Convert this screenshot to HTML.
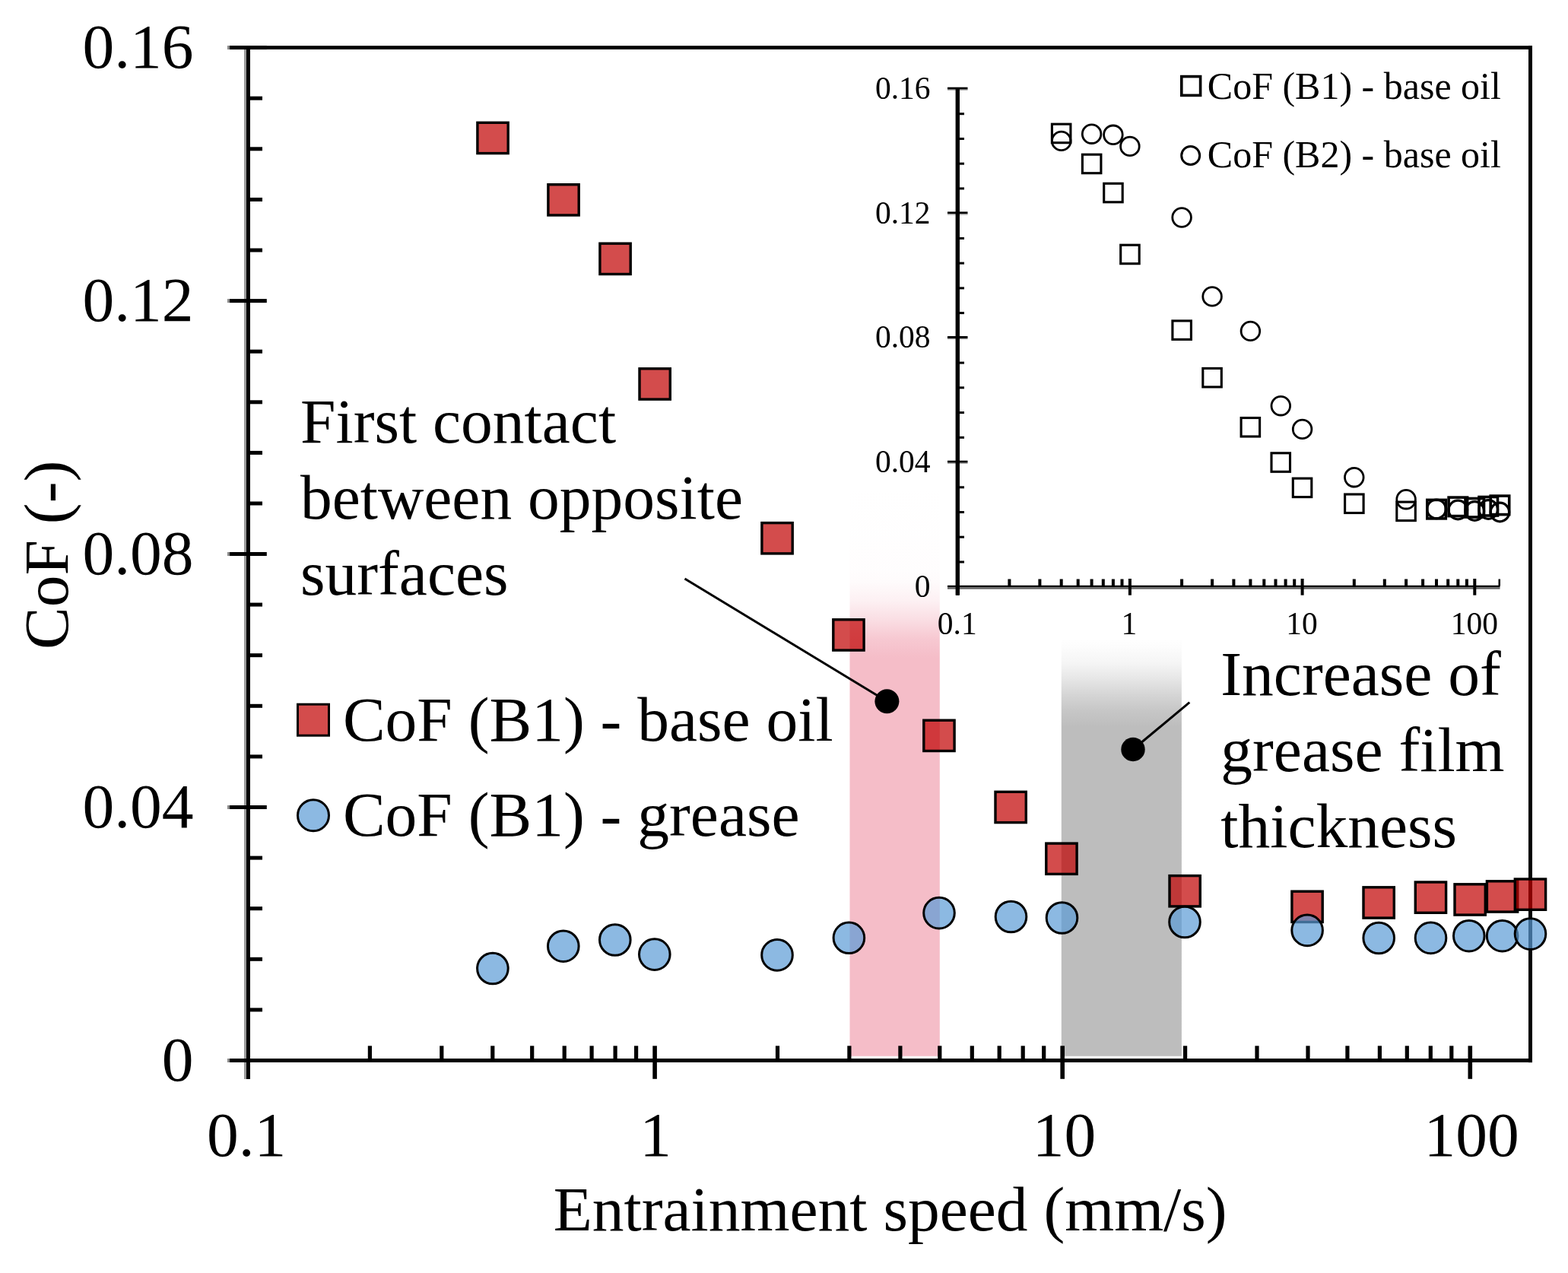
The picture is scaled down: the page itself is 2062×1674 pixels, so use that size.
<!DOCTYPE html><html><head><meta charset="utf-8"><style>html,body{margin:0;padding:0;background:#fff;overflow:hidden}svg{display:block}</style></head><body><svg width="2062" height="1674" viewBox="0 0 2062 1674">
<defs>
<linearGradient id="gp" x1="0" y1="636" x2="0" y2="1389" gradientUnits="userSpaceOnUse"><stop offset="0.0000" stop-color="#F5BDC8" stop-opacity="0"/><stop offset="0.0850" stop-color="#F5BDC8" stop-opacity="0.012"/><stop offset="0.1514" stop-color="#F5BDC8" stop-opacity="0.03"/><stop offset="0.1713" stop-color="#F5BDC8" stop-opacity="0.06"/><stop offset="0.2045" stop-color="#F5BDC8" stop-opacity="0.22"/><stop offset="0.2377" stop-color="#F5BDC8" stop-opacity="0.5"/><stop offset="0.2709" stop-color="#F5BDC8" stop-opacity="0.83"/><stop offset="0.3041" stop-color="#F5BDC8" stop-opacity="1"/><stop offset="1.0000" stop-color="#F5BDC8" stop-opacity="1"/></linearGradient>
<linearGradient id="gg" x1="0" y1="838" x2="0" y2="1389" gradientUnits="userSpaceOnUse"><stop offset="0.0000" stop-color="#BDBDBD" stop-opacity="0"/><stop offset="0.0236" stop-color="#BDBDBD" stop-opacity="0.045"/><stop offset="0.0617" stop-color="#BDBDBD" stop-opacity="0.15"/><stop offset="0.0998" stop-color="#BDBDBD" stop-opacity="0.38"/><stop offset="0.1379" stop-color="#BDBDBD" stop-opacity="0.64"/><stop offset="0.1760" stop-color="#BDBDBD" stop-opacity="0.86"/><stop offset="0.2142" stop-color="#BDBDBD" stop-opacity="1"/><stop offset="1.0000" stop-color="#BDBDBD" stop-opacity="1"/></linearGradient>
</defs>
<rect x="0" y="0" width="2062" height="1674" fill="#fff"/>
<rect x="1117.5" y="636" width="118.3" height="752.8" fill="url(#gp)"/>
<rect x="1395.8" y="841" width="158.1" height="547.8" fill="url(#gg)"/>
<g>
<rect x="1246" y="769.8" width="726.5" height="2.5" fill="#000"/>
<rect x="1246" y="772.3" width="726.5" height="2.4" fill="#606060"/>
<rect x="1246" y="114.7" width="26.5" height="3" fill="#000"/>
<rect x="1246" y="117.7" width="26.5" height="1.3" fill="#b0b0b0"/>
<rect x="1246" y="278.4" width="26.5" height="3" fill="#000"/>
<rect x="1246" y="281.4" width="26.5" height="1.3" fill="#b0b0b0"/>
<rect x="1246" y="442.0" width="26.5" height="3" fill="#000"/>
<rect x="1246" y="445.0" width="26.5" height="1.3" fill="#b0b0b0"/>
<rect x="1246" y="605.7" width="26.5" height="3" fill="#000"/>
<rect x="1246" y="608.7" width="26.5" height="1.3" fill="#b0b0b0"/>
<rect x="1259" y="737.5" width="9" height="3" fill="#000"/>
<rect x="1259" y="704.7" width="9" height="3" fill="#000"/>
<rect x="1259" y="672.0" width="9" height="3" fill="#000"/>
<rect x="1259" y="639.3" width="9" height="3" fill="#000"/>
<rect x="1259" y="573.8" width="9" height="3" fill="#000"/>
<rect x="1259" y="541.1" width="9" height="3" fill="#000"/>
<rect x="1259" y="508.3" width="9" height="3" fill="#000"/>
<rect x="1259" y="475.6" width="9" height="3" fill="#000"/>
<rect x="1259" y="410.1" width="9" height="3" fill="#000"/>
<rect x="1259" y="377.4" width="9" height="3" fill="#000"/>
<rect x="1259" y="344.6" width="9" height="3" fill="#000"/>
<rect x="1259" y="311.9" width="9" height="3" fill="#000"/>
<rect x="1259" y="246.4" width="9" height="3" fill="#000"/>
<rect x="1259" y="213.7" width="9" height="3" fill="#000"/>
<rect x="1259" y="181.0" width="9" height="3" fill="#000"/>
<rect x="1259" y="148.2" width="9" height="3" fill="#000"/>
<rect x="1257.2" y="761" width="4" height="21.7" fill="#000"/>
<rect x="1325.4" y="761.5" width="4" height="9" fill="#000"/>
<rect x="1365.4" y="761.5" width="4" height="9" fill="#000"/>
<rect x="1393.7" y="761.5" width="4" height="9" fill="#000"/>
<rect x="1415.7" y="761.5" width="4" height="9" fill="#000"/>
<rect x="1433.6" y="761.5" width="4" height="9" fill="#000"/>
<rect x="1448.8" y="761.5" width="4" height="9" fill="#000"/>
<rect x="1461.9" y="761.5" width="4" height="9" fill="#000"/>
<rect x="1473.5" y="761.5" width="4" height="9" fill="#000"/>
<rect x="1483.9" y="761" width="4" height="21.7" fill="#000"/>
<rect x="1552.1" y="761.5" width="4" height="9" fill="#000"/>
<rect x="1592.1" y="761.5" width="4" height="9" fill="#000"/>
<rect x="1620.4" y="761.5" width="4" height="9" fill="#000"/>
<rect x="1642.4" y="761.5" width="4" height="9" fill="#000"/>
<rect x="1660.3" y="761.5" width="4" height="9" fill="#000"/>
<rect x="1675.5" y="761.5" width="4" height="9" fill="#000"/>
<rect x="1688.6" y="761.5" width="4" height="9" fill="#000"/>
<rect x="1700.2" y="761.5" width="4" height="9" fill="#000"/>
<rect x="1710.6" y="761" width="4" height="21.7" fill="#000"/>
<rect x="1778.8" y="761.5" width="4" height="9" fill="#000"/>
<rect x="1818.8" y="761.5" width="4" height="9" fill="#000"/>
<rect x="1847.1" y="761.5" width="4" height="9" fill="#000"/>
<rect x="1869.1" y="761.5" width="4" height="9" fill="#000"/>
<rect x="1887.0" y="761.5" width="4" height="9" fill="#000"/>
<rect x="1902.2" y="761.5" width="4" height="9" fill="#000"/>
<rect x="1915.3" y="761.5" width="4" height="9" fill="#000"/>
<rect x="1926.9" y="761.5" width="4" height="9" fill="#000"/>
<rect x="1937.3" y="761" width="4" height="21.7" fill="#000"/>
<rect x="1970.5" y="761.5" width="2.5" height="9" fill="#000"/>
<rect x="1256.6" y="115" width="5.4" height="667.7" fill="#000"/>
<text x="1223.5" y="129.9" font-family="Liberation Serif, Times New Roman, serif" font-size="41.5" text-anchor="end">0.16</text>
<text x="1223.5" y="293.6" font-family="Liberation Serif, Times New Roman, serif" font-size="41.5" text-anchor="end">0.12</text>
<text x="1223.5" y="457.2" font-family="Liberation Serif, Times New Roman, serif" font-size="41.5" text-anchor="end">0.08</text>
<text x="1223.5" y="620.9" font-family="Liberation Serif, Times New Roman, serif" font-size="41.5" text-anchor="end">0.04</text>
<text x="1223.5" y="784.6" font-family="Liberation Serif, Times New Roman, serif" font-size="41.5" text-anchor="end">0</text>
<text x="1258.7" y="834.4" font-family="Liberation Serif, Times New Roman, serif" font-size="41.5" text-anchor="middle">0.1</text>
<text x="1484.8" y="834.4" font-family="Liberation Serif, Times New Roman, serif" font-size="41.5" text-anchor="middle">1</text>
<text x="1712.1" y="834.4" font-family="Liberation Serif, Times New Roman, serif" font-size="41.5" text-anchor="middle">10</text>
<text x="1938.8" y="834.4" font-family="Liberation Serif, Times New Roman, serif" font-size="41.5" text-anchor="middle">100</text>
<rect x="1383.4" y="163.2" width="24.5" height="24.5" fill="none" stroke="#000" stroke-width="3.1"/>
<rect x="1423.4" y="203.2" width="24.5" height="24.5" fill="none" stroke="#000" stroke-width="3.1"/>
<rect x="1451.7" y="241.3" width="24.5" height="24.5" fill="none" stroke="#000" stroke-width="3.1"/>
<rect x="1473.7" y="322.2" width="24.5" height="24.5" fill="none" stroke="#000" stroke-width="3.1"/>
<rect x="1541.9" y="421.9" width="24.5" height="24.5" fill="none" stroke="#000" stroke-width="3.1"/>
<rect x="1581.8" y="484.4" width="24.5" height="24.5" fill="none" stroke="#000" stroke-width="3.1"/>
<rect x="1632.1" y="549.5" width="24.5" height="24.5" fill="none" stroke="#000" stroke-width="3.1"/>
<rect x="1672.0" y="595.8" width="24.5" height="24.5" fill="none" stroke="#000" stroke-width="3.1"/>
<rect x="1700.3" y="629.1" width="24.5" height="24.5" fill="none" stroke="#000" stroke-width="3.1"/>
<rect x="1768.6" y="650.0" width="24.5" height="24.5" fill="none" stroke="#000" stroke-width="3.1"/>
<rect x="1836.8" y="660.1" width="24.5" height="24.5" fill="none" stroke="#000" stroke-width="3.1"/>
<rect x="1876.8" y="657.4" width="24.5" height="24.5" fill="none" stroke="#000" stroke-width="3.6"/>
<rect x="1905.1" y="654.1" width="24.5" height="24.5" fill="none" stroke="#000" stroke-width="3.6"/>
<rect x="1927.0" y="655.5" width="24.5" height="24.5" fill="none" stroke="#000" stroke-width="3.6"/>
<rect x="1945.0" y="653.5" width="24.5" height="24.5" fill="none" stroke="#000" stroke-width="3.6"/>
<rect x="1960.2" y="652.1" width="24.5" height="24.5" fill="none" stroke="#000" stroke-width="3.6"/>
<circle cx="1395.7" cy="185.4" r="12.3" fill="none" stroke="#000" stroke-width="2.8"/>
<circle cx="1435.6" cy="176.2" r="12.3" fill="none" stroke="#000" stroke-width="2.8"/>
<circle cx="1463.9" cy="177.3" r="12.3" fill="none" stroke="#000" stroke-width="2.8"/>
<circle cx="1485.9" cy="192.4" r="12.3" fill="none" stroke="#000" stroke-width="2.8"/>
<circle cx="1554.1" cy="286" r="12.3" fill="none" stroke="#000" stroke-width="2.8"/>
<circle cx="1594.1" cy="389.9" r="12.3" fill="none" stroke="#000" stroke-width="2.8"/>
<circle cx="1644.4" cy="435.4" r="12.3" fill="none" stroke="#000" stroke-width="2.8"/>
<circle cx="1684.3" cy="533.7" r="12.3" fill="none" stroke="#000" stroke-width="2.8"/>
<circle cx="1712.6" cy="564.4" r="12.3" fill="none" stroke="#000" stroke-width="2.8"/>
<circle cx="1780.8" cy="627.7" r="12.3" fill="none" stroke="#000" stroke-width="2.8"/>
<circle cx="1849.1" cy="656.7" r="12.3" fill="none" stroke="#000" stroke-width="2.8"/>
<circle cx="1889.0" cy="669.4" r="12.3" fill="none" stroke="#000" stroke-width="3.2"/>
<circle cx="1917.3" cy="670.5" r="12.3" fill="none" stroke="#000" stroke-width="3.2"/>
<circle cx="1939.3" cy="672" r="12.3" fill="none" stroke="#000" stroke-width="3.2"/>
<circle cx="1957.3" cy="670" r="12.3" fill="none" stroke="#000" stroke-width="3.2"/>
<circle cx="1972.4" cy="673.5" r="12.3" fill="none" stroke="#000" stroke-width="3.2"/>
<rect x="1553.8" y="100.6" width="24.8" height="24.8" fill="none" stroke="#000" stroke-width="3.6"/>
<circle cx="1565.7" cy="204.5" r="12" fill="none" stroke="#000" stroke-width="3"/>
<text x="1587.8" y="130.4" font-family="Liberation Serif, Times New Roman, serif" font-size="50">CoF (B1) - base oil</text>
<text x="1587.8" y="220.3" font-family="Liberation Serif, Times New Roman, serif" font-size="50">CoF (B2) - base oil</text>
</g>
<rect x="321" y="65" width="3" height="1354" fill="#999"/>
<rect x="299" y="60.2" width="3" height="4.8" fill="#8a8a8a"/>
<rect x="302" y="60.2" width="1713" height="4.8" fill="#000"/>
<rect x="324" y="60.2" width="5" height="1358.8" fill="#000"/>
<rect x="2010" y="60.2" width="5" height="1337" fill="#000"/>
<rect x="299" y="1392" width="3" height="5" fill="#8a8a8a"/>
<rect x="302" y="1392" width="1713" height="5" fill="#000"/>
<rect x="299" y="1392.0" width="3" height="5" fill="#8a8a8a"/>
<rect x="302" y="1392.0" width="48.8" height="5" fill="#000"/>
<rect x="326" y="1325.4" width="19" height="5" fill="#000"/>
<rect x="326" y="1258.8" width="19" height="5" fill="#000"/>
<rect x="326" y="1192.2" width="19" height="5" fill="#000"/>
<rect x="326" y="1125.6" width="19" height="5" fill="#000"/>
<rect x="299" y="1059.0" width="3" height="5" fill="#8a8a8a"/>
<rect x="302" y="1059.0" width="48.8" height="5" fill="#000"/>
<rect x="326" y="992.4" width="19" height="5" fill="#000"/>
<rect x="326" y="925.8" width="19" height="5" fill="#000"/>
<rect x="326" y="859.2" width="19" height="5" fill="#000"/>
<rect x="326" y="792.6" width="19" height="5" fill="#000"/>
<rect x="299" y="726.0" width="3" height="5" fill="#8a8a8a"/>
<rect x="302" y="726.0" width="48.8" height="5" fill="#000"/>
<rect x="326" y="659.5" width="19" height="5" fill="#000"/>
<rect x="326" y="592.9" width="19" height="5" fill="#000"/>
<rect x="326" y="526.3" width="19" height="5" fill="#000"/>
<rect x="326" y="459.7" width="19" height="5" fill="#000"/>
<rect x="299" y="393.1" width="3" height="5" fill="#8a8a8a"/>
<rect x="302" y="393.1" width="48.8" height="5" fill="#000"/>
<rect x="326" y="326.5" width="19" height="5" fill="#000"/>
<rect x="326" y="259.9" width="19" height="5" fill="#000"/>
<rect x="326" y="193.3" width="19" height="5" fill="#000"/>
<rect x="326" y="126.7" width="19" height="5" fill="#000"/>
<rect x="299" y="60.1" width="3" height="5" fill="#8a8a8a"/>
<rect x="302" y="60.1" width="48.8" height="5" fill="#000"/>
<rect x="483.8" y="1375.3" width="5.2" height="18" fill="#000"/>
<rect x="578.2" y="1375.3" width="5.2" height="18" fill="#000"/>
<rect x="645.2" y="1375.3" width="5.2" height="18" fill="#000"/>
<rect x="697.1" y="1375.3" width="5.2" height="18" fill="#000"/>
<rect x="739.6" y="1375.3" width="5.2" height="18" fill="#000"/>
<rect x="775.5" y="1375.3" width="5.2" height="18" fill="#000"/>
<rect x="806.5" y="1375.3" width="5.2" height="18" fill="#000"/>
<rect x="834.0" y="1375.3" width="5.2" height="18" fill="#000"/>
<rect x="858.3" y="1375.3" width="5.6" height="43.5" fill="#000"/>
<rect x="1019.9" y="1375.3" width="5.2" height="18" fill="#000"/>
<rect x="1114.3" y="1375.3" width="5.2" height="18" fill="#000"/>
<rect x="1181.3" y="1375.3" width="5.2" height="18" fill="#000"/>
<rect x="1233.2" y="1375.3" width="5.2" height="18" fill="#000"/>
<rect x="1275.7" y="1375.3" width="5.2" height="18" fill="#000"/>
<rect x="1311.6" y="1375.3" width="5.2" height="18" fill="#000"/>
<rect x="1342.6" y="1375.3" width="5.2" height="18" fill="#000"/>
<rect x="1370.1" y="1375.3" width="5.2" height="18" fill="#000"/>
<rect x="1394.4" y="1375.3" width="5.6" height="43.5" fill="#000"/>
<rect x="1556.0" y="1375.3" width="5.2" height="18" fill="#000"/>
<rect x="1650.4" y="1375.3" width="5.2" height="18" fill="#000"/>
<rect x="1717.4" y="1375.3" width="5.2" height="18" fill="#000"/>
<rect x="1769.3" y="1375.3" width="5.2" height="18" fill="#000"/>
<rect x="1811.8" y="1375.3" width="5.2" height="18" fill="#000"/>
<rect x="1847.7" y="1375.3" width="5.2" height="18" fill="#000"/>
<rect x="1878.7" y="1375.3" width="5.2" height="18" fill="#000"/>
<rect x="1906.2" y="1375.3" width="5.2" height="18" fill="#000"/>
<rect x="1930.5" y="1375.3" width="5.6" height="43.5" fill="#000"/>
<text x="254.5" y="88.8" font-family="Liberation Serif, Times New Roman, serif" font-size="83.5" text-anchor="end">0.16</text>
<text x="254.5" y="421.8" font-family="Liberation Serif, Times New Roman, serif" font-size="83.5" text-anchor="end">0.12</text>
<text x="254.5" y="754.7" font-family="Liberation Serif, Times New Roman, serif" font-size="83.5" text-anchor="end">0.08</text>
<text x="254.5" y="1087.7" font-family="Liberation Serif, Times New Roman, serif" font-size="83.5" text-anchor="end">0.04</text>
<text x="254.5" y="1420.7" font-family="Liberation Serif, Times New Roman, serif" font-size="83.5" text-anchor="end">0</text>
<text x="324.1" y="1519.7" font-family="Liberation Serif, Times New Roman, serif" font-size="83.5" text-anchor="middle">0.1</text>
<text x="862.0" y="1519.7" font-family="Liberation Serif, Times New Roman, serif" font-size="83.5" text-anchor="middle">1</text>
<text x="1399.6" y="1519.7" font-family="Liberation Serif, Times New Roman, serif" font-size="83.5" text-anchor="middle">10</text>
<text x="1935.2" y="1519.7" font-family="Liberation Serif, Times New Roman, serif" font-size="83.5" text-anchor="middle">100</text>
<text x="727.8" y="1618.4" font-family="Liberation Serif, Times New Roman, serif" font-size="83.5">Entrainment speed (mm/s)</text>
<text transform="translate(88.7,853.9) rotate(-90)" x="0" y="0" font-family="Liberation Serif, Times New Roman, serif" font-size="83.5">CoF (-)</text>
<rect x="627.9" y="161.3" width="40.3" height="40.3" fill="#C00000" fill-opacity="0.7" stroke="#000" stroke-width="3.4"/>
<rect x="720.9" y="242.7" width="40.3" height="40.3" fill="#C00000" fill-opacity="0.7" stroke="#000" stroke-width="3.4"/>
<rect x="788.9" y="320.2" width="40.3" height="40.3" fill="#C00000" fill-opacity="0.7" stroke="#000" stroke-width="3.4"/>
<rect x="841.0" y="484.8" width="40.3" height="40.3" fill="#C00000" fill-opacity="0.7" stroke="#000" stroke-width="3.4"/>
<rect x="1001.9" y="687.6" width="40.3" height="40.3" fill="#C00000" fill-opacity="0.7" stroke="#000" stroke-width="3.4"/>
<rect x="1095.8" y="814.8" width="40.3" height="40.3" fill="#C00000" fill-opacity="0.7" stroke="#000" stroke-width="3.4"/>
<rect x="1214.8" y="947.2" width="40.3" height="40.3" fill="#C00000" fill-opacity="0.7" stroke="#000" stroke-width="3.4"/>
<rect x="1309.0" y="1041.3" width="40.3" height="40.3" fill="#C00000" fill-opacity="0.7" stroke="#000" stroke-width="3.4"/>
<rect x="1375.8" y="1109.1" width="40.3" height="40.3" fill="#C00000" fill-opacity="0.7" stroke="#000" stroke-width="3.4"/>
<rect x="1538.0" y="1151.6" width="40.3" height="40.3" fill="#C00000" fill-opacity="0.7" stroke="#000" stroke-width="3.4"/>
<rect x="1698.9" y="1172.2" width="40.3" height="40.3" fill="#C00000" fill-opacity="0.7" stroke="#000" stroke-width="3.4"/>
<rect x="1793.0" y="1166.8" width="40.3" height="40.3" fill="#C00000" fill-opacity="0.7" stroke="#000" stroke-width="3.4"/>
<rect x="1861.3" y="1160.0" width="40.3" height="40.3" fill="#C00000" fill-opacity="0.7" stroke="#000" stroke-width="3.4"/>
<rect x="1913.0" y="1162.8" width="40.3" height="40.3" fill="#C00000" fill-opacity="0.7" stroke="#000" stroke-width="3.4"/>
<rect x="1955.4" y="1158.8" width="40.3" height="40.3" fill="#C00000" fill-opacity="0.7" stroke="#000" stroke-width="3.4"/>
<rect x="1992.3" y="1156.0" width="40.3" height="40.3" fill="#C00000" fill-opacity="0.7" stroke="#000" stroke-width="3.4"/>
<circle cx="647.9" cy="1273.5" r="20.3" fill="#5B9BD5" fill-opacity="0.7" stroke="#000" stroke-width="3"/>
<circle cx="740.8" cy="1244.2" r="20.3" fill="#5B9BD5" fill-opacity="0.7" stroke="#000" stroke-width="3"/>
<circle cx="808.8" cy="1236" r="20.3" fill="#5B9BD5" fill-opacity="0.7" stroke="#000" stroke-width="3"/>
<circle cx="860.8" cy="1255.1" r="20.3" fill="#5B9BD5" fill-opacity="0.7" stroke="#000" stroke-width="3"/>
<circle cx="1022" cy="1255.9" r="20.3" fill="#5B9BD5" fill-opacity="0.7" stroke="#000" stroke-width="3"/>
<circle cx="1116.4" cy="1233.3" r="20.3" fill="#5B9BD5" fill-opacity="0.7" stroke="#000" stroke-width="3"/>
<circle cx="1235" cy="1200.6" r="20.3" fill="#5B9BD5" fill-opacity="0.7" stroke="#000" stroke-width="3"/>
<circle cx="1329.5" cy="1205.5" r="20.3" fill="#5B9BD5" fill-opacity="0.7" stroke="#000" stroke-width="3"/>
<circle cx="1396.5" cy="1207" r="20.3" fill="#5B9BD5" fill-opacity="0.7" stroke="#000" stroke-width="3"/>
<circle cx="1558" cy="1212.5" r="20.3" fill="#5B9BD5" fill-opacity="0.7" stroke="#000" stroke-width="3"/>
<circle cx="1719.1" cy="1223.4" r="20.3" fill="#5B9BD5" fill-opacity="0.7" stroke="#000" stroke-width="3"/>
<circle cx="1813.2" cy="1233.5" r="20.3" fill="#5B9BD5" fill-opacity="0.7" stroke="#000" stroke-width="3"/>
<circle cx="1881.5" cy="1233.4" r="20.3" fill="#5B9BD5" fill-opacity="0.7" stroke="#000" stroke-width="3"/>
<circle cx="1931.8" cy="1230.7" r="20.3" fill="#5B9BD5" fill-opacity="0.7" stroke="#000" stroke-width="3"/>
<circle cx="1975.6" cy="1230.7" r="20.3" fill="#5B9BD5" fill-opacity="0.7" stroke="#000" stroke-width="3"/>
<circle cx="2012.5" cy="1228.1" r="20.3" fill="#5B9BD5" fill-opacity="0.7" stroke="#000" stroke-width="3"/>
<rect x="391.5" y="926.2" width="41" height="41" fill="#C00000" fill-opacity="0.7" stroke="#000" stroke-width="3"/>
<circle cx="412" cy="1072.3" r="20.5" fill="#5B9BD5" fill-opacity="0.7" stroke="#000" stroke-width="3"/>
<text x="450.9" y="973.6" font-family="Liberation Serif, Times New Roman, serif" font-size="83.5">CoF (B1) - base oil</text>
<text x="450.9" y="1099.2" font-family="Liberation Serif, Times New Roman, serif" font-size="83.5">CoF (B1) - grease</text>
<line x1="900.5" y1="761" x2="1166.4" y2="922.2" stroke="#000" stroke-width="3"/>
<circle cx="1166.4" cy="922.2" r="16" fill="#000"/>
<line x1="1564.3" y1="923.7" x2="1490" y2="985.5" stroke="#000" stroke-width="3"/>
<circle cx="1490" cy="985.5" r="15.7" fill="#000"/>
<text x="395" y="581.6" font-family="Liberation Serif, Times New Roman, serif" font-size="83.5">First contact</text>
<text x="395" y="681.8" font-family="Liberation Serif, Times New Roman, serif" font-size="83.5">between opposite</text>
<text x="395" y="782.0" font-family="Liberation Serif, Times New Roman, serif" font-size="83.5">surfaces</text>
<text x="1605.3" y="914.0" font-family="Liberation Serif, Times New Roman, serif" font-size="83.5">Increase of</text>
<text x="1605.3" y="1014.2" font-family="Liberation Serif, Times New Roman, serif" font-size="83.5">grease film</text>
<text x="1605.3" y="1114.4" font-family="Liberation Serif, Times New Roman, serif" font-size="83.5">thickness</text>
</svg></body></html>
